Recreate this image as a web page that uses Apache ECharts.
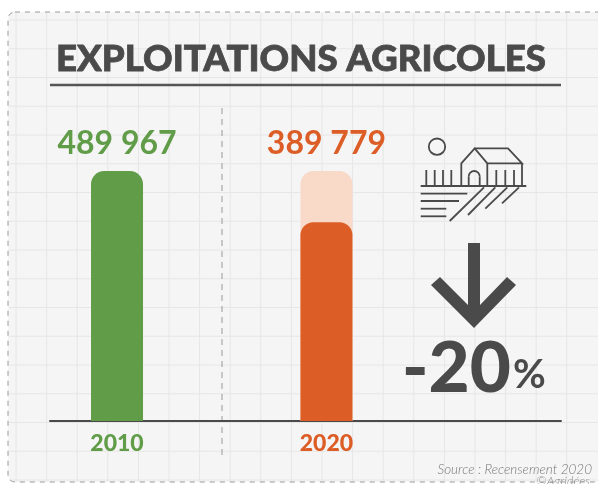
<!DOCTYPE html>
<html>
<head>
<meta charset="utf-8">
<style>html,body{margin:0;padding:0;background:#fff}#chart{width:598px;height:484px}</style>
<script src="https://cdn.jsdelivr.net/npm/echarts@6/dist/echarts.min.js"></script>
</head>
<body>
<div id="chart"></div>
<script>
// Farm counts from the two agricultural censuses
const years = [2010, 2020];
const farms = [489967, 389779];
const previousLevel = [null, 489967];
const change = '-20';
const titleText = 'EXPLOITATIONS AGRICOLES';
const sourceText = 'Source : Recensement 2020';
const creditText = '©Agridées';

const GREEN = '#619c49', ORANGE = '#dc5d26', PALE = '#f9d9c8', INK = '#4a4a4a';
const FONT = 'Lato, "Noto Sans", sans-serif';
const formatCount = v => String(v).replace(/\B(?=(\d{3})+$)/g, ' ');

// Squared-paper backdrop
const paper = [];
for (let x = 16; x < 590; x += 30.6) {
  paper.push({ type: 'line', silent: true, shape: { x1: x, y1: 13, x2: x, y2: 482 }, style: { stroke: '#e6e6e6', lineWidth: 1 } });
}
for (let y = 20; y < 484; y += 28.75) {
  paper.push({ type: 'line', silent: true, shape: { x1: 9, y1: y, x2: 598, y2: y }, style: { stroke: '#e6e6e6', lineWidth: 1 } });
}

// Farm and field pictogram, drawn as thin strokes
const stroke = { stroke: INK, lineWidth: 1.8, fill: null };
const poly = pts => ({ type: 'polyline', silent: true, shape: { points: pts }, style: stroke });
const pictogram = [
  { type: 'circle', silent: true, shape: { cx: 437, cy: 146.7, r: 8.2 }, style: stroke },
  poly([[420.7, 186], [526.3, 186]]),
  poly([[426.3, 170], [426.3, 186]]), poly([[434.7, 170], [434.7, 186]]),
  poly([[443, 170], [443, 186]]), poly([[451.3, 170], [451.3, 186]]),
  poly([[461.3, 186], [461.3, 163.3], [474.7, 148.3], [487.3, 163.3], [487.3, 186]]),
  poly([[474.7, 148.3], [508, 148.3], [522, 163.3], [487.3, 163.3]]),
  poly([[522, 163.3], [522, 186]]),
  poly([[468.7, 186], [468.7, 176.5]]), poly([[479.7, 186], [479.7, 176.5]]),
  { type: 'arc', silent: true, shape: { cx: 474.2, cy: 176.5, r: 5.5, startAngle: Math.PI, endAngle: 2 * Math.PI }, style: stroke },
  poly([[496.3, 170], [496.3, 186]]), poly([[505.3, 170], [505.3, 186]]), poly([[514, 170], [514, 186]]),
  poly([[420.7, 193.7], [467.3, 193.7]]), poly([[420.7, 201], [459, 201]]),
  poly([[420.7, 208.7], [446.3, 208.7]]), poly([[420.7, 216.3], [446.3, 216.3]]),
  poly([[449.7, 221], [484, 187.3]]), poly([[468, 215], [495.3, 187.3]]),
  poly([[485.3, 208.7], [507.3, 187.3]]), poly([[502, 203.3], [519, 187.3]])
];

const option = {
  animation: false,
  backgroundColor: '#ffffff',
  title: {
    text: titleText,
    left: 51, top: 36,
    textStyle: { fontFamily: FONT, fontWeight: 900, fontSize: 36.6, color: INK, textBorderColor: INK, textBorderWidth: 0.8 }
  },
  grid: { left: 50, right: 37, top: 166, height: 255 },
  xAxis: {
    type: 'value',
    min: 2006.8, max: 2031.2,
    splitLine: { show: false },
    axisTick: { show: false },
    axisLine: { show: true, onZero: false, lineStyle: { color: INK, width: 2 } },
    axisLabel: {
      customValues: years,
      margin: 11,
      fontFamily: FONT,
      fontWeight: 900,
      fontSize: 23,
      formatter: v => v === years[0] ? '{a|' + v + '}' : '{b|' + v + '}',
      rich: {
        a: { color: GREEN, fontFamily: FONT, fontWeight: 900, fontSize: 23 },
        b: { color: ORANGE, fontFamily: FONT, fontWeight: 900, fontSize: 23 }
      }
    }
  },
  yAxis: { type: 'value', min: 0, max: 500000, show: false },
  series: [
    {
      name: 'Niveau 2010',
      type: 'bar',
      barWidth: 52,
      barGap: '-100%',
      z: 2,
      data: previousLevel.map((v, i) => [years[i], v]),
      itemStyle: { color: PALE, borderRadius: [13, 13, 0, 0] },
      label: {
        show: true, position: 'top', distance: 11,
        formatter: () => formatCount(farms[1]),
        color: ORANGE, fontFamily: FONT, fontWeight: 700, fontSize: 32
      }
    },
    {
      name: 'Exploitations',
      type: 'bar',
      barWidth: 52,
      barGap: '-100%',
      z: 3,
      data: farms.map((v, i) => ({
        value: [years[i], v],
        itemStyle: { color: i === 0 ? GREEN : ORANGE, borderRadius: [13, 13, 0, 0] },
        label: {
          show: i === 0, position: 'top', distance: 11,
          formatter: p => formatCount(p.value[1]),
          color: GREEN, fontFamily: FONT, fontWeight: 700, fontSize: 32
        }
      }))
    }
  ],
  graphic: [
    {
      type: 'group', z: -10, silent: true,
      children: [
        { type: 'rect', shape: { x: 8, y: 12, width: 640, height: 470, r: 7 }, style: { fill: '#f5f5f5', stroke: null } },
        ...paper,
        { type: 'rect', shape: { x: 8, y: 12, width: 640, height: 470, r: 7 }, style: { fill: null, stroke: '#9a9a9a', lineWidth: 1, lineDash: [5, 5] } }
      ]
    },
    {
      type: 'group', z: 1, silent: true,
      children: [
        { type: 'line', shape: { x1: 50, y1: 85, x2: 561, y2: 85 }, style: { stroke: '#555555', lineWidth: 2.5 } },
        { type: 'line', shape: { x1: 222, y1: 108, x2: 222, y2: 456 }, style: { stroke: '#a8a8a8', lineWidth: 1.2, lineDash: [6, 5] } },
        ...pictogram,
        {
          type: 'polygon',
          shape: { points: [[468, 243], [480, 243], [480, 305], [507, 277], [516, 285], [474, 328], [431, 285], [440, 277], [468, 305]] },
          style: { fill: INK }
        },
        {
          type: 'text', x: 402, y: 369,
          style: {
            text: '{n|' + change + '}{p|%}',
            verticalAlign: 'middle',
            rich: {
              n: { fontFamily: FONT, fontWeight: 900, fontSize: 71, fill: INK },
              p: { fontFamily: FONT, fontWeight: 700, fontSize: 40, fill: INK, padding: [12, 0, 0, 2] }
            }
          }
        },
        {
          type: 'text', x: 592, y: 470,
          style: { text: sourceText, align: 'right', verticalAlign: 'middle', fontFamily: FONT, fontStyle: 'italic', fontWeight: 300, fontSize: 13.5, fill: '#777777' }
        },
        {
          type: 'text', x: 590, y: 481,
          style: { text: creditText, align: 'right', verticalAlign: 'middle', fontFamily: FONT, fontStyle: 'italic', fontWeight: 300, fontSize: 12.5, fill: '#8a8a8a' }
        }
      ]
    }
  ]
};

echarts.init(document.getElementById('chart'), null, { renderer: 'canvas' }).setOption(option);
</script>
</body>
</html>
